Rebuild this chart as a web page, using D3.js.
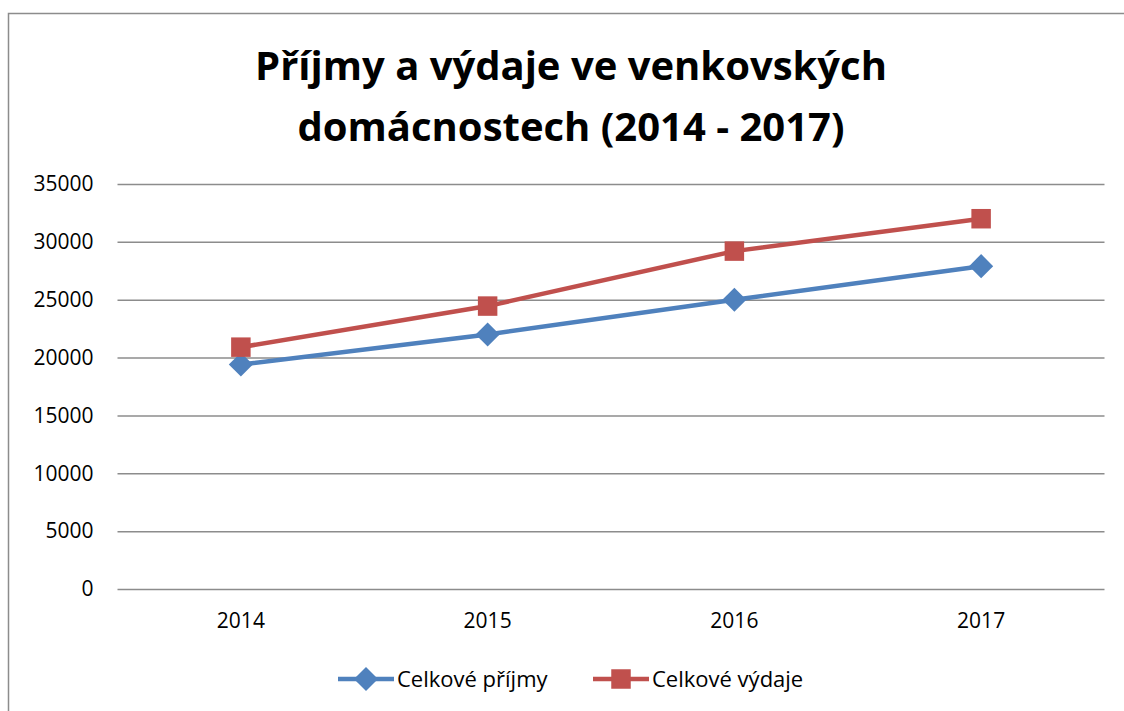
<!DOCTYPE html>
<meta charset="utf-8">
<style>
body { margin: 0; background: #fff; }
svg { display: block; font-family: "Open Sans", "Noto Sans", sans-serif; }
.grid line { stroke: #8c8c8c; stroke-width: 1.5px; }
.tick text { font-size: 21px; fill: #000; font-family: "Open Sans", "Noto Sans", sans-serif; }
</style>
<script src="https://d3js.org/d3.v7.min.js"></script>
<body>
<script>
// data
var years = ["2014", "2015", "2016", "2017"];
var prijmy = [19400, 22000, 25000, 27900];
var vydaje = [20900, 24450, 29200, 32000];
var yTicks = [0, 5000, 10000, 15000, 20000, 25000, 30000, 35000];
var seriesNames = ["Celkové příjmy", "Celkové výdaje"];
var colors = ["#4f81bd", "#c0504d"];

var W = 1124, H = 711;
var svg = d3.select("body").append("svg").attr("width", W).attr("height", H);

// outer frame (right and bottom edges fall outside the picture)
svg.append("rect")
  .attr("x", 8.5).attr("y", 13.5)
  .attr("width", W + 20).attr("height", H + 20)
  .attr("fill", "none").attr("stroke", "#8c8c8c").attr("stroke-width", 1.5);

var plotL = 117.5, plotR = 1104.5, plotT = 184, plotB = 589;

var x = d3.scaleBand().domain(years).range([plotL, plotR]);
var y = d3.scaleLinear().domain([0, 35000]).range([plotB, plotT]);

// title
var title = svg.append("text")
  .attr("text-anchor", "middle")
  .attr("font-size", "40px").attr("font-weight", "bold");
title.append("tspan").attr("x", 571).attr("y", 80).text("Příjmy a výdaje ve venkovských");
title.append("tspan").attr("x", 571).attr("y", 141).text("domácnostech (2014 - 2017)");

// gridlines + y labels
var yAxis = svg.append("g").attr("class", "grid")
  .attr("transform", "translate(" + plotL + ",0)")
  .call(d3.axisLeft(y).tickValues(yTicks).tickSize(-(plotR - plotL)).tickPadding(24).tickFormat(d3.format("d")));
yAxis.select(".domain").remove();
yAxis.attr("font-family", null);

// x labels
var xAxis = svg.append("g")
  .attr("transform", "translate(0," + plotB + ")")
  .call(d3.axisBottom(x).tickSize(0).tickPadding(24));
xAxis.select(".domain").remove();
xAxis.attr("font-family", null);

var line = d3.line()
  .x(function(d, i) { return x(years[i]) + x.bandwidth() / 2; })
  .y(function(d) { return y(d); });

var diamond = d3.symbol().type(d3.symbolSquare).size(290);
var square = d3.symbol().type(d3.symbolSquare).size(380);

[prijmy, vydaje].forEach(function(vals, s) {
  svg.append("path").datum(vals)
    .attr("d", line)
    .attr("fill", "none")
    .attr("stroke", colors[s])
    .attr("stroke-width", 4.5)
    .attr("stroke-linejoin", "round");
  svg.selectAll(".m" + s).data(vals).enter().append("path")
    .attr("class", "m" + s)
    .attr("d", s === 0 ? diamond : square)
    .attr("fill", colors[s])
    .attr("transform", function(d, i) {
      var t = "translate(" + (x(years[i]) + x.bandwidth() / 2) + "," + y(d) + ")";
      return s === 0 ? t + " rotate(45)" : t;
    });
});

// legend
var legX = [338, 593];
seriesNames.forEach(function(name, s) {
  var g = svg.append("g").attr("transform", "translate(" + legX[s] + ",679)");
  g.append("line").attr("x1", 0).attr("x2", 56)
    .attr("stroke", colors[s]).attr("stroke-width", 4.5);
  g.append("path")
    .attr("d", s === 0 ? diamond : square)
    .attr("fill", colors[s])
    .attr("transform", "translate(28,0)" + (s === 0 ? " rotate(45)" : ""));
  g.append("text").attr("x", 59).attr("y", 8)
    .attr("font-size", "22px").text(name);
});
</script>
</body>
